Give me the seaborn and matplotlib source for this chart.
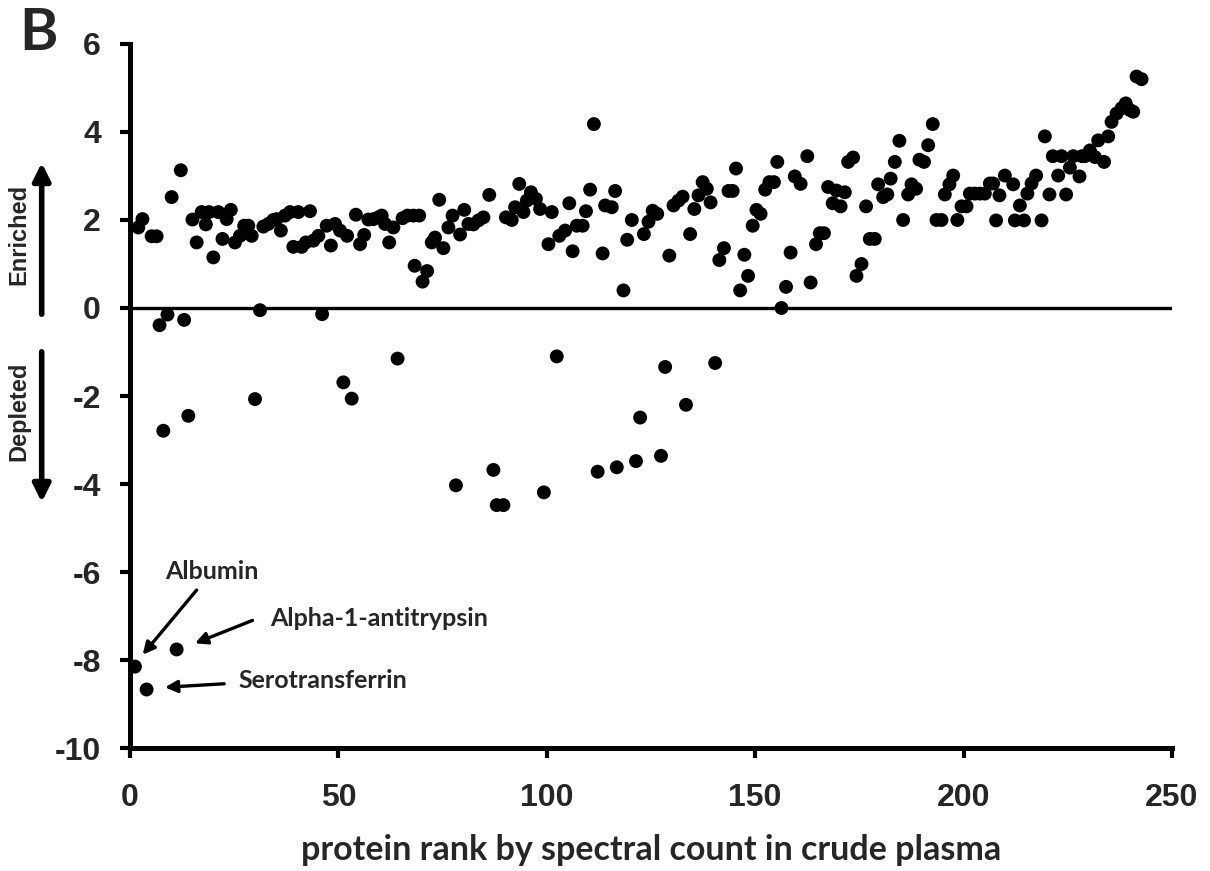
import numpy as np
import pandas as pd
import matplotlib
matplotlib.use("Agg")
import matplotlib.pyplot as plt
import seaborn as sns

# protein rank (x) and log2 enrichment (y)
rank = [1.2, 2.0, 3.0, 4.0, 5.2, 6.4, 7.1, 8.0, 9.0, 10.0, 11.2, 12.2, 13.0, 14.0, 15.0,
        16.0, 17.2, 18.2, 19.0, 20.0, 21.2, 22.2, 23.2, 24.2, 25.2, 26.4, 27.4, 28.4, 29.2,
        30.0, 31.2, 32.0, 33.2, 34.4, 35.2, 36.2, 37.2, 38.4, 39.2, 40.4, 41.2, 42.2, 43.2,
        44.0, 45.2, 46.1, 47.2, 48.2, 49.2, 50.4, 51.2, 52.1, 53.2, 54.2, 55.2, 56.2, 57.2,
        58.4, 59.6, 60.4, 61.2, 62.2, 63.2, 64.2, 65.4, 66.6, 68.0, 68.3, 69.4, 70.2, 71.3,
        72.4, 73.2, 74.2, 75.2, 76.4, 77.4, 78.2, 79.2, 80.2, 81.2, 82.4, 83.6, 84.8, 86.2,
        87.2, 88.0, 89.6, 90.2, 91.6, 92.4, 93.4, 94.4, 95.2, 96.2, 97.4, 98.4, 99.3, 100.4,
        101.2, 102.4, 103.0, 104.4, 105.4, 106.2, 107.2, 108.6, 109.4, 110.4, 111.3, 112.2,
        113.4, 114.0, 115.6, 116.4, 116.8, 118.4, 119.3, 120.4, 121.4, 122.4, 123.3, 124.4,
        125.4, 126.5, 127.4, 128.4, 129.4, 130.4, 131.6, 132.6, 133.4, 134.4, 135.4, 136.4,
        137.4, 138.4, 139.3, 140.4, 141.4, 142.5, 143.6, 144.6, 145.4, 146.4, 147.4, 148.3,
        149.4, 150.3, 151.3, 152.4, 153.4, 154.5, 155.3, 156.3, 157.4, 158.5, 159.5, 160.9,
        162.5, 163.3, 164.6, 165.5, 166.5, 167.5, 168.6, 169.5, 170.5, 171.5, 172.3, 173.5,
        174.3, 175.5, 176.6, 177.5, 178.7, 179.5, 180.7, 181.7, 182.5, 183.5, 184.6, 185.5,
        186.7, 187.5, 188.6, 189.4, 190.5, 191.5, 192.6, 193.5, 194.7, 195.5, 196.6, 197.5,
        198.5, 199.5, 200.7, 201.5, 202.7, 203.9, 205.1, 206.3, 207.1, 207.8, 208.6, 209.9,
        211.9, 212.3, 213.5, 214.5, 215.3, 216.3, 217.4, 218.7, 219.5, 220.6, 221.4, 222.7,
        223.5, 224.6, 225.5, 226.3, 227.8, 228.4, 229.1, 230.3, 231.5, 232.3, 233.7, 234.7,
        235.5, 236.7, 237.9, 238.9, 239.9, 240.7, 241.5, 242.7]
enrichment = [-8.15, 1.83, 2.02, -8.67, 1.63, 1.63, -0.39, -2.79, -0.15, 2.52, -7.76, 3.13,
              -0.27, -2.45, 2.01, 1.49, 2.18, 1.90, 2.18, 1.15, 2.18, 1.57, 2.02, 2.23, 1.49,
              1.64, 1.87, 1.87, 1.64, -2.07, -0.05, 1.85, 1.91, 2.00, 2.02, 1.76, 2.10, 2.18,
              1.39, 2.18, 1.39, 1.49, 2.20, 1.53, 1.64, -0.14, 1.87, 1.42, 1.91, 1.76, -1.69,
              1.64, -2.06, 2.12, 1.45, 1.66, 2.01, 2.02, 2.06, 2.10, 1.91, 1.49, 1.83, -1.15,
              2.04, 2.10, 2.10, 0.96, 2.10, 0.60, 0.84, 1.49, 1.60, 2.46, 1.36, 1.83, 2.10,
              -4.03, 1.67, 2.23, 1.91, 1.90, 1.99, 2.06, 2.57, -3.68, -4.48, -4.48, 2.06, 2.00,
              2.29, 2.82, 2.18, 2.44, 2.63, 2.48, 2.25, -4.19, 1.45, 2.18, -1.10, 1.64, 1.76,
              2.38, 1.29, 1.87, 1.87, 2.20, 2.69, 4.18, -3.72, 1.24, 2.33, 2.29, 2.66, -3.62,
              0.40, 1.55, 2.00, -3.48, -2.49, 1.68, 1.96, 2.21, 2.14, -3.36, -1.34, 1.19, 2.33,
              2.44, 2.53, -2.20, 1.68, 2.25, 2.56, 2.86, 2.71, 2.40, -1.25, 1.09, 1.36, 2.66,
              2.66, 3.17, 0.40, 1.21, 0.73, 1.87, 2.23, 2.14, 2.69, 2.86, 2.86, 3.32, 0.00,
              0.48, 1.26, 2.99, 2.82, 3.45, 0.58, 1.45, 1.70, 1.70, 2.75, 2.38, 2.67, 2.31,
              2.63, 3.32, 3.42, 0.73, 1.00, 2.31, 1.57, 1.57, 2.81, 2.52, 2.58, 2.94, 3.32,
              3.80, 2.00, 2.58, 2.81, 2.71, 3.37, 3.32, 3.70, 4.18, 2.00, 2.00, 2.58, 2.81,
              3.01, 2.00, 2.31, 2.31, 2.60, 2.60, 2.60, 2.60, 2.83, 2.83, 1.99, 2.56, 3.01,
              2.81, 1.99, 2.33, 1.99, 2.60, 2.83, 3.01, 1.99, 3.90, 2.58, 3.45, 3.01, 3.45,
              2.58, 3.19, 3.45, 2.99, 3.45, 3.45, 3.58, 3.43, 3.81, 3.32, 3.90, 4.23, 4.42,
              4.54, 4.65, 4.50, 4.46, 5.26, 5.20]

x_ticks = [0, 50, 100, 150, 200, 250]
y_ticks = [-10, -8, -6, -4, -2, 0, 2, 4, 6]
x_label = "protein rank by spectral count in crude plasma"
panel_label = "B"

# annotated proteins: name, point (x,y), arrow tail (x,y), text anchor (x,y), ha
annot_names = ["Albumin", "Alpha-1-antitrypsin", "Serotransferrin"]
annot_points = [(3.05, -7.88), (15.6, -7.62), (8.4, -8.62)]
annot_tails = [(16.0, -6.41), (29.4, -7.10), (22.6, -8.54)]
annot_text = [(19.7, -5.98), (33.6, -7.05), (26.0, -8.47)]
annot_ha = ["center", "left", "left"]

df = pd.DataFrame({"rank": rank, "enrichment": enrichment})

sns.set_style("ticks")
plt.rcParams["font.family"] = ["Liberation Sans", "DejaVu Sans"]

fig = plt.figure(figsize=(12.1, 8.71), dpi=100)
ax = fig.add_axes([0.1074, 0.1412, 0.8612, 0.8083])

sns.scatterplot(data=df, x="rank", y="enrichment", ax=ax, color="black",
                s=100, edgecolor="none", linewidth=0, zorder=3)

ax.axhline(0, color="black", lw=2.4, zorder=2)
ax.set_xlim(0, 250)
ax.set_ylim(-10, 6)
ax.set_xticks(x_ticks)
ax.set_yticks(y_ticks)
ax.set_xticklabels([str(t) for t in x_ticks])
ax.set_yticklabels([str(t) for t in y_ticks])
for lab in ax.get_xticklabels() + ax.get_yticklabels():
    lab.set_fontweight("bold")
    lab.set_fontsize(23)
ax.tick_params(axis="both", direction="out", length=7, width=3, color="black")
ax.tick_params(axis="x", pad=18)
ax.tick_params(axis="y", pad=14)
for side in ["top", "right"]:
    ax.spines[side].set_visible(False)
for side in ["left", "bottom"]:
    ax.spines[side].set_linewidth(3.6)
    ax.spines[side].set_color("black")

ax.set_xlabel(x_label, family=["Lato", "DejaVu Sans"], fontweight="bold", fontsize=24.5,
              labelpad=15)
ax.set_ylabel("")

for name, pt, tail, tp, ha in zip(annot_names, annot_points, annot_tails, annot_text, annot_ha):
    ax.annotate("", xy=pt, xytext=tail, xycoords="data", textcoords="data",
                arrowprops=dict(arrowstyle="-|>", lw=2.4, color="black", mutation_scale=18,
                                shrinkA=0, shrinkB=0), annotation_clip=False)
    ax.text(tp[0], tp[1], name, ha=ha, va="center", fontsize=18, fontweight="bold",
            family=["Lato", "DejaVu Sans"])

# Enriched / Depleted side labels with arrows (figure pixel coords)
W, H = 1210, 871
fig.text(19 / W, 1 - 234 / H, "Enriched", rotation=90, ha="center", va="center",
         fontsize=17, fontweight="bold")
fig.text(19 / W, 1 - 411 / H, "Depleted", rotation=90, ha="center", va="center",
         fontsize=17, fontweight="bold")
fig.patches.append(matplotlib.patches.FancyArrowPatch(
    (41.7 / W, 1 - 317 / H), (41.7 / W, 1 - 160 / H), transform=fig.transFigure,
    arrowstyle="-|>", mutation_scale=26, lw=4, color="black"))
fig.patches.append(matplotlib.patches.FancyArrowPatch(
    (41.7 / W, 1 - 349 / H), (41.7 / W, 1 - 505 / H), transform=fig.transFigure,
    arrowstyle="-|>", mutation_scale=26, lw=4, color="black"))

fig.text(39 / W, 1 - 34 / H, panel_label, ha="center", va="center", fontsize=42,
         fontweight="bold", family=["Lato", "DejaVu Sans"])

fig.savefig("out.png", dpi=100)
